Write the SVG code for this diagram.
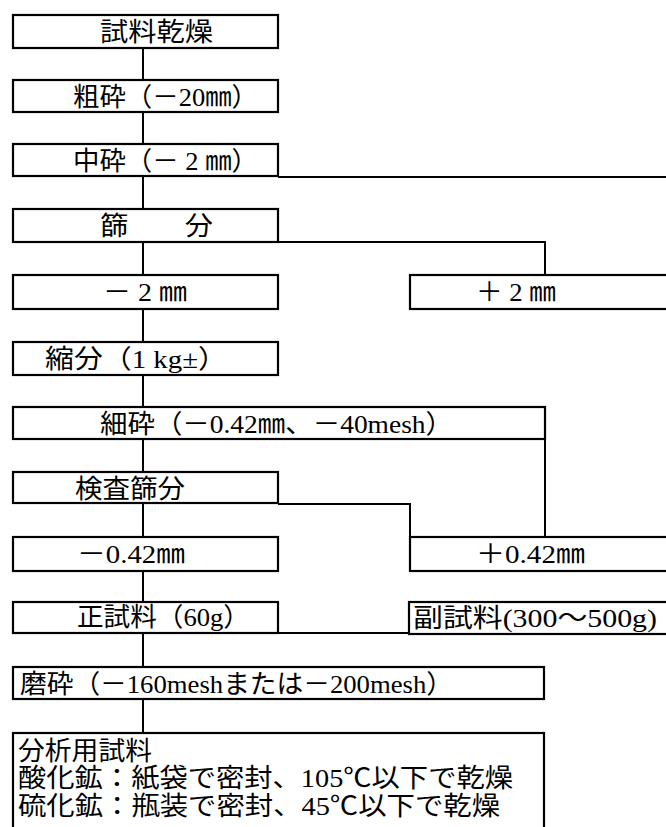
<svg xmlns="http://www.w3.org/2000/svg" width="666" height="827" viewBox="0 0 666 827">
<style>
rect.b{fill:none;stroke:#000;stroke-width:2.2}
.c{fill:none;stroke:#000;stroke-width:2}
text{font-family:"Liberation Serif","Noto Sans CJK JP",serif;font-size:26px;fill:#000}
</style>
<rect width="666" height="827" fill="#fff"/>
<g id="connectors">
<path class="c" d="M143,48V80M143,112V144M143,176V209M143,242V275M143,309V342M143,375V407M143,439V472M143,503V537M143,571V602M143,633V667M143,699V733"/>
<path class="c" d="M278,177H668"/>
<path class="c" d="M278,242H545V275"/>
<path class="c" d="M545,439V537"/>
<path class="c" d="M278,504H410V537"/>
<path class="c" d="M278,633H409"/>
</g>
<g id="n1"><rect class="b" x="13" y="15" width="265" height="33"/><text x="100" y="41" textLength="113" lengthAdjust="spacingAndGlyphs">試料乾燥</text></g>
<g id="n2"><rect class="b" x="13" y="80" width="265" height="32"/><text x="73" y="106" textLength="185" lengthAdjust="spacingAndGlyphs">粗砕（－20㎜）</text></g>
<g id="n3"><rect class="b" x="13" y="144" width="265" height="32"/><text x="73" y="170" textLength="185" lengthAdjust="spacingAndGlyphs">中砕（－ 2 ㎜）</text></g>
<g id="n4"><rect class="b" x="13" y="209" width="265" height="33"/><text x="100" y="235" textLength="113" lengthAdjust="spacingAndGlyphs">篩　　分</text></g>
<g id="n5"><rect class="b" x="13" y="275" width="265" height="34"/><text x="103" y="301" textLength="84" lengthAdjust="spacingAndGlyphs">－ 2 ㎜</text></g>
<g id="n6"><rect class="b" x="410" y="275" width="262" height="34"/><text x="476" y="301" textLength="80" lengthAdjust="spacingAndGlyphs">＋ 2 ㎜</text></g>
<g id="n7"><rect class="b" x="13" y="342" width="265" height="33"/><text x="45" y="368" textLength="182" lengthAdjust="spacingAndGlyphs">縮分（1 kg±）</text></g>
<g id="n8"><rect class="b" x="13" y="407" width="532" height="32"/><text x="100" y="433" textLength="353" lengthAdjust="spacingAndGlyphs">細砕（－0.42㎜、－40mesh）</text></g>
<g id="n9"><rect class="b" x="13" y="472" width="265" height="31"/><text x="75" y="498" textLength="110" lengthAdjust="spacingAndGlyphs">検査篩分</text></g>
<g id="n10"><rect class="b" x="13" y="537" width="265" height="34"/><text x="77" y="563" textLength="108" lengthAdjust="spacingAndGlyphs">－0.42㎜</text></g>
<g id="n11"><rect class="b" x="410" y="537" width="262" height="34"/><text x="476" y="563" textLength="109" lengthAdjust="spacingAndGlyphs">＋0.42㎜</text></g>
<g id="n12"><rect class="b" x="13" y="602" width="265" height="31"/><text x="77" y="626" textLength="173" lengthAdjust="spacingAndGlyphs">正試料（60g）</text></g>
<g id="n13"><rect class="b" x="409" y="602" width="263" height="32"/><text x="413" y="627" textLength="244" lengthAdjust="spacingAndGlyphs">副試料(300～500g)</text></g>
<g id="n14"><rect class="b" x="13" y="667" width="531" height="32"/><text x="20" y="693" textLength="433" lengthAdjust="spacingAndGlyphs">磨砕（－160meshまたは－200mesh）</text></g>
<g id="n15"><rect class="b" x="13" y="733" width="531" height="100"/>
<text x="18" y="760" textLength="134" lengthAdjust="spacingAndGlyphs">分析用試料</text>
<text x="18" y="787" textLength="495" lengthAdjust="spacingAndGlyphs">酸化鉱：紙袋で密封、105℃以下で乾燥</text>
<text x="18" y="815" textLength="482" lengthAdjust="spacingAndGlyphs">硫化鉱：瓶装で密封、45℃以下で乾燥</text>
</g>
</svg>
